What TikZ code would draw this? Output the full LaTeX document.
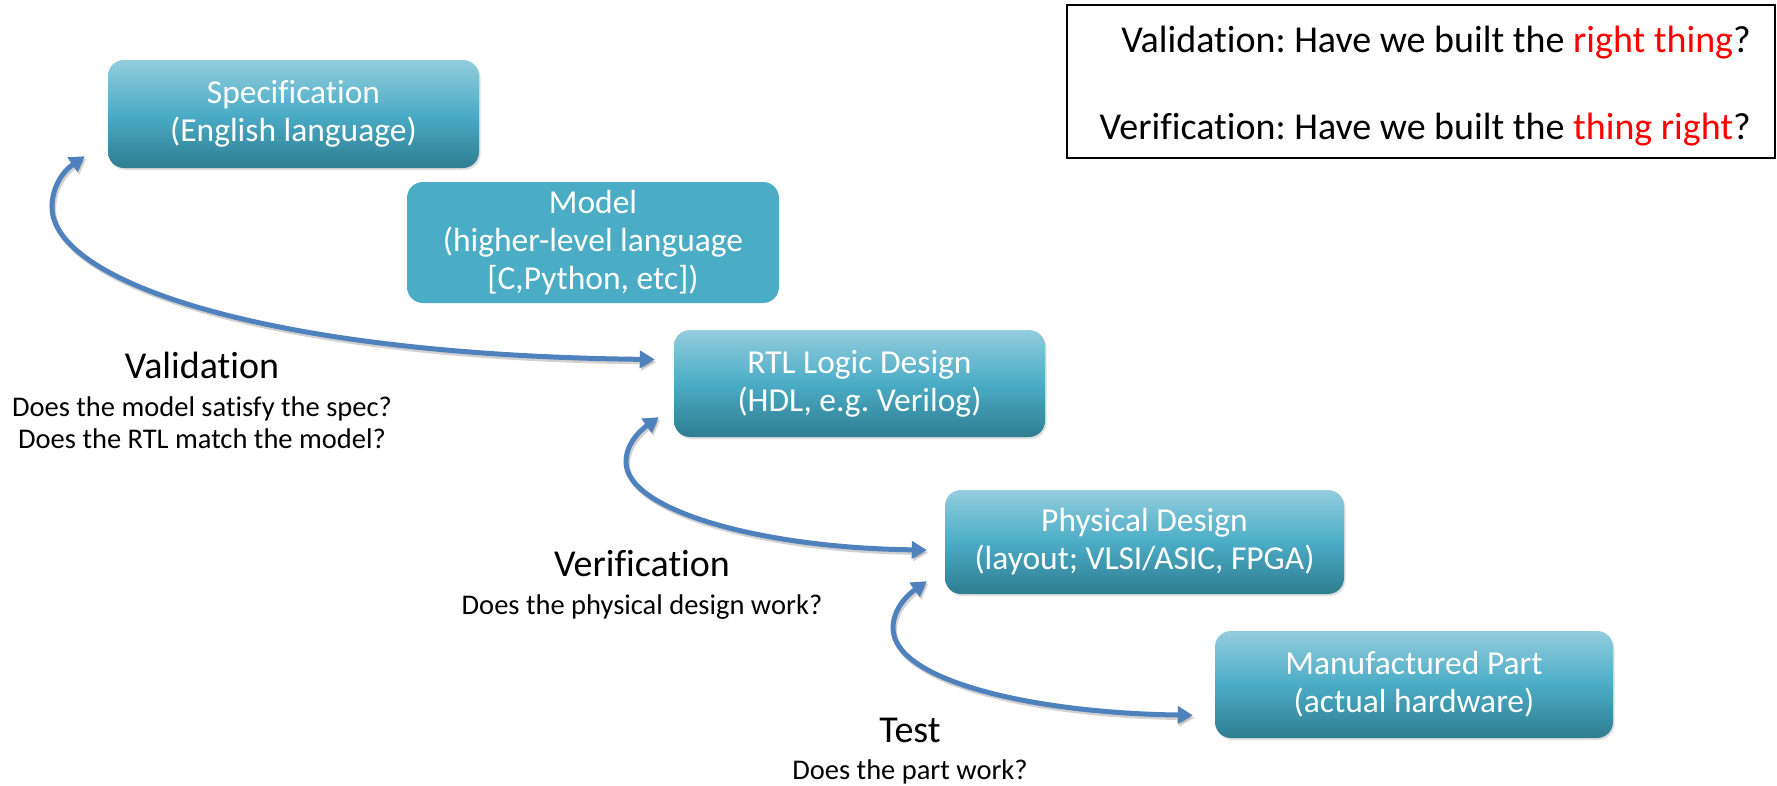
\documentclass[tikz,border=0pt]{standalone}
\usepackage{fontspec}
\setmainfont{Carlito}[Ligatures=NoCommon]
\usetikzlibrary{arrows.meta,calc,shadows}
\definecolor{boxmid}{HTML}{4BACC6}
\definecolor{boxtop}{HTML}{93CDDD}
\definecolor{boxbot}{HTML}{2F7D90}
\definecolor{arrowblue}{HTML}{4F81BD}
\definecolor{qred}{HTML}{FF0000}
\frenchspacing
\begin{document}
\begin{tikzpicture}[x=1pt,y=-1pt,
  stagebox/.style={rounded corners=16pt, text=white, align=center, inner sep=0pt,
    font=\fontsize{33.5}{38}\selectfont,
    top color=boxtop, bottom color=boxbot, middle color=boxmid,
    drop shadow={shadow xshift=1.5pt,shadow yshift=-2pt,opacity=0.25}},
  flatbox/.style={rounded corners=16pt, text=white, align=center, inner sep=0pt,
    font=\fontsize{33.5}{38}\selectfont, fill=boxmid},
  flow/.style={draw=arrowblue, line width=5pt,
    {Triangle[width=17pt,length=15pt]}-{Triangle[width=17pt,length=15pt]}},
  flowshadow/.style={draw=black, opacity=0.18, line width=5pt,
    {Triangle[width=17pt,length=15pt]}-{Triangle[width=17pt,length=15pt]},
    transform canvas={shift={(1.5pt,-2.5pt)}}},
  title/.style={font=\fontsize{38}{44}\selectfont, inner sep=0pt},
  sub/.style={font=\fontsize{28.5}{32}\selectfont, inner sep=0pt, align=center},
  qtext/.style={font=\fontsize{38}{44}\selectfont, inner sep=0pt, anchor=base east}
]
\useasboundingbox (0,0) rectangle (1777,785);
\fill[white] (0,0) rectangle (1777,785);

\node[stagebox, minimum width=371pt, minimum height=108pt] (spec) at (293.5,114) {Specification\\(English language)};
\node[flatbox, minimum width=372pt, minimum height=121pt] (model) at (593,242.5) {Model\\(higher-level language\\{}[C,Python, etc])};
\node[stagebox, minimum width=371pt, minimum height=107pt] (rtl) at (859.5,383.5) {RTL Logic Design\\(HDL, e.g. Verilog)};
\node[stagebox, minimum width=399pt, minimum height=104pt] (phys) at (1144.5,542) {Physical Design\\(layout; VLSI/ASIC, FPGA)};
\node[stagebox, minimum width=398pt, minimum height=107pt] (manu) at (1414,684.5) {Manufactured Part\\(actual hardware)};

\node[draw=black, line width=1.5pt, minimum width=708pt, minimum height=153pt, inner sep=0pt] (qbox) at (1421,81.5) {};
\node[qtext] (qval) at (1751,52) {Validation: Have we built the \textcolor{qred}{right thing}?};
\node[qtext] (qver) at (1751,139) {Verification: Have we built the \textcolor{qred}{thing right}?};

\node[title] (lval) at (202,365) {Validation};
\node[sub] (lvalsub) at (202,423) {Does the model satisfy the spec?\\Does the RTL match the model?};
\node[title] (lver) at (642,564) {Verification};
\node[sub] (lversub) at (642,607) {Does the physical design work?};
\node[title] (ltest) at (910,730) {Test};
\node[sub] (ltestsub) at (910,772) {Does the part work?};

\coordinate (a1s) at ($(spec.south west)+(-23,-12)$);
\coordinate (a1e) at ($(rtl.west)+(-19,-24)$);
\coordinate (a2s) at ($(rtl.south west)+(-15,-20)$);
\coordinate (a2e) at ($(phys.west)+(-18,8)$);
\coordinate (a3s) at ($(phys.south west)+(-18,-13)$);
\coordinate (a3e) at ($(manu.south west)+(-22,-23)$);

\draw[flowshadow] (a1s) .. controls (62,172) and (52,188) .. (52,207) .. controls (52,280) and (260,355) .. (a1e);
\draw[flowshadow] (a2s) .. controls (638,432) and (626,445) .. (626,462) .. controls (626,510) and (760,548) .. (a2e);
\draw[flowshadow] (a3s) .. controls (906,596) and (893,610) .. (893,628) .. controls (893,680) and (1030,713) .. (a3e);
\draw[flow] (a1s) .. controls (62,172) and (52,188) .. (52,207) .. controls (52,280) and (260,355) .. (a1e);
\draw[flow] (a2s) .. controls (638,432) and (626,445) .. (626,462) .. controls (626,510) and (760,548) .. (a2e);
\draw[flow] (a3s) .. controls (906,596) and (893,610) .. (893,628) .. controls (893,680) and (1030,713) .. (a3e);
\end{tikzpicture}
\end{document}
